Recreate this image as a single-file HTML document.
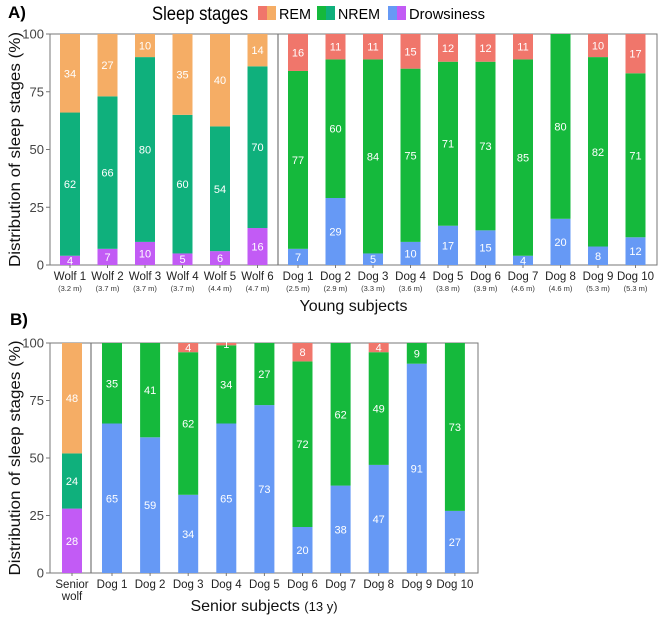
<!DOCTYPE html>
<html><head><meta charset="utf-8">
<style>
html,body{margin:0;padding:0;background:#fff;}
svg{display:block;font-family:"Liberation Sans",sans-serif;}
</style></head>
<body>
<svg id="chart" width="660" height="617" viewBox="0 0 660 617" xmlns="http://www.w3.org/2000/svg">
  <text x="8" y="18" font-size="17" font-weight="bold">A)</text>
  <text x="152" y="20" font-size="19" textLength="96" lengthAdjust="spacingAndGlyphs">Sleep stages</text>
  <g>
    <rect x="258" y="6" width="9" height="14" fill="#F0766B"/><rect x="267" y="6" width="9" height="14" fill="#F5AD65"/>
    <text x="279" y="19" font-size="15" textLength="32" lengthAdjust="spacingAndGlyphs">REM</text>
  </g>
  <g>
    <rect x="317" y="6" width="9" height="14" fill="#15B93C"/><rect x="326" y="6" width="9" height="14" fill="#0FB07C"/>
    <text x="338" y="19" font-size="15" textLength="42" lengthAdjust="spacingAndGlyphs">NREM</text>
  </g>
  <g>
    <rect x="388" y="6" width="9" height="14" fill="#6699F5"/><rect x="397" y="6" width="9" height="14" fill="#C25BF5"/>
    <text x="409" y="19" font-size="15" textLength="76" lengthAdjust="spacingAndGlyphs">Drowsiness</text>
  </g>
  <text x="10" y="325" font-size="17" font-weight="bold">B)</text>
  <g id="pa"></g>
  <g id="pb"></g>
</svg>
<script>
// Panel A data
const catsA = ["Wolf 1","Wolf 2","Wolf 3","Wolf 4","Wolf 5","Wolf 6","Dog 1","Dog 2","Dog 3","Dog 4","Dog 5","Dog 6","Dog 7","Dog 8","Dog 9","Dog 10"];
const subA = ["(3.2 m)","(3.7 m)","(3.7 m)","(3.7 m)","(4.4 m)","(4.7 m)","(2.5 m)","(2.9 m)","(3.3 m)","(3.6 m)","(3.8 m)","(3.9 m)","(4.6 m)","(4.6 m)","(5.3 m)","(5.3 m)"];
const drowA = [4,7,10,5,6,16,7,29,5,10,17,15,4,20,8,12];
const nremA = [62,66,80,60,54,70,77,60,84,75,71,73,85,80,82,71];
const remA = [34,27,10,35,40,14,16,11,11,15,12,12,11,0,10,17];
const wolvesA = 6;
// Panel B data
const catsB = ["Senior wolf","Dog 1","Dog 2","Dog 3","Dog 4","Dog 5","Dog 6","Dog 7","Dog 8","Dog 9","Dog 10"];
const drowB = [28,65,59,34,65,73,20,38,47,91,27];
const nremB = [24,35,41,62,34,27,72,62,49,9,73];
const remB = [48,0,0,4,1,0,8,0,4,0,0];
const wolvesB = 1;
const ticks = [0,25,50,75,100];

const NS="http://www.w3.org/2000/svg";
function mk(tag,attrs,parent){const e=document.createElementNS(NS,tag);for(const k in attrs)e.setAttribute(k,attrs[k]);parent.appendChild(e);return e;}

function panel(g,cfg){
  const {left,right,top,bottom,firstX,dogFirstX,step,divX,cats,sub,drow,nrem,rem,nW,title,tag} = cfg;
  const y = v => bottom - v/100*(bottom-top);
  const xc = i => i<nW ? firstX + i*step : dogFirstX + (i-nW)*step;
  const bw = 20;
  mk('rect',{x:left,y:top,width:right-left,height:bottom-top,fill:'none',stroke:'#777','stroke-width':1},g);
  mk('line',{x1:divX,x2:divX,y1:top,y2:bottom,stroke:'#777','stroke-width':1.2},g);
  ticks.forEach(t=>{
    mk('line',{x1:left-4,x2:left,y1:y(t),y2:y(t),stroke:'#777'},g);
    const tl=mk('text',{x:left-6,y:y(t)+4.5,'font-size':13,'text-anchor':'end',fill:'#444'},g);
    tl.textContent=t;
    
    
  });
  cats.forEach((c,i)=>{
    const wolf = i<nW;
    const cols = wolf ? ['#C25BF5','#0FB07C','#F5AD65'] : ['#6699F5','#15B93C','#F0766B'];
    const vals=[drow[i],nrem[i],rem[i]];
    const names=['drowsiness','nrem','rem'];
    let acc=0;
    const x=xc(i);
    vals.forEach((v,k)=>{
      if(v<=0) return;
      const r=mk('rect',{x:x-bw/2,y:y(acc+v),width:bw,height:y(acc)-y(acc+v),fill:cols[k]},g);
      
      
      const lt=mk('text',{x:x,y:(y(acc)+y(acc+v))/2+4,'font-size':11,'text-anchor':'middle',fill:'#fff'},g);
      lt.textContent=v;
      
      
      acc+=v;
    });
    mk('line',{x1:x,x2:x,y1:bottom,y2:bottom+3,stroke:'#777'},g);
    if(tag==='b' && c==='Senior wolf'){
      const t1=mk('text',{x:x,y:bottom+15,'font-size':11.5,'text-anchor':'middle',fill:'#222'},g);t1.textContent='Senior';
      
      
      const t2=mk('text',{x:x,y:bottom+27,'font-size':11.5,'text-anchor':'middle',fill:'#222'},g);t2.textContent='wolf';
      
      
    } else {
      const t=mk('text',{x:x,y:bottom+15,'font-size':11.5,'text-anchor':'middle',fill:'#222'},g);t.textContent=c;
      
      
    }
    if(sub){
      const s=mk('text',{x:x,y:bottom+26,'font-size':7.5,'text-anchor':'middle',fill:'#333'},g);s.textContent=sub[i];
      
      
    }
  });
  const yt=mk('text',{x:0,y:0,'font-size':16,'text-anchor':'middle',fill:'#111',transform:`translate(20,${(top+bottom)/2}) rotate(-90)`,textLength:235,lengthAdjust:'spacingAndGlyphs'},g);
  yt.textContent='Distribution of sleep stages (%)';
  
  
  const xt=mk('text',{x:(left+right)/2,y:cfg.titleY,'font-size':16,'text-anchor':'middle',fill:'#111'},g);
  xt.innerHTML=title;
  
  
}
panel(document.getElementById('pa'),{left:50,right:657,top:34,bottom:265,firstX:70,dogFirstX:298,step:37.5,divX:278,
  cats:catsA,sub:subA,drow:drowA,nrem:nremA,rem:remA,nW:wolvesA,title:'Young subjects',titleY:311,tag:'a'});
panel(document.getElementById('pb'),{left:50,right:478,top:343,bottom:573,firstX:72,dogFirstX:112,step:38.1,divX:91,
  cats:catsB,sub:null,drow:drowB,nrem:nremB,rem:remB,nW:wolvesB,title:'Senior subjects <tspan font-size="13">(13 y)</tspan>',titleY:611,tag:'b'});
document.getElementById('pa');
document.getElementById('pa');
document.getElementById('pb');
document.getElementById('pb');
</script>
</body></html>
